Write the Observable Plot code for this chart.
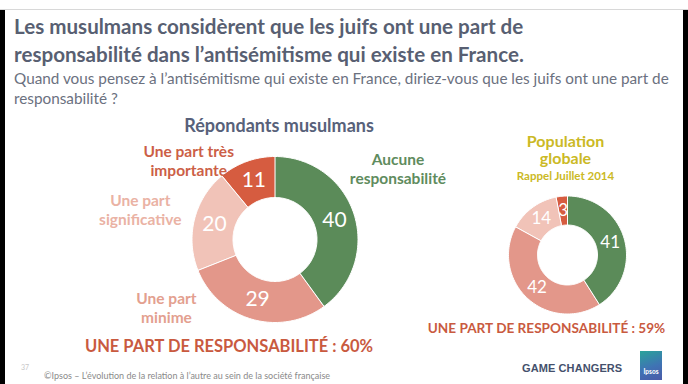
<!DOCTYPE html>
<html>
<head>
<meta charset="utf-8">
<script src="https://cdn.jsdelivr.net/npm/d3@7"></script>
<script src="https://cdn.jsdelivr.net/npm/@observablehq/plot@0.6"></script>
<style>
  html, body { margin: 0; padding: 0; background: #fff; }
  #page { position: relative; width: 688px; height: 384px; overflow: hidden; background: #fff; font-family: Lato, 'Open Sans', sans-serif; }
  .abs { position: absolute; white-space: nowrap; }
  #topline { left: 0; top: 9px; width: 688px; height: 1px; background: #d8d8d8; }
  #barL { left: 0; top: 10px; width: 5px; height: 374px; background: #000; }
  #barR { left: 683px; top: 10px; width: 5px; height: 374px; background: #000; }
  #title { left: 14px; top: 12px; font-size: 20.6px; font-weight: 700; color: #585f72; line-height: 28px; }
  #subtitle { left: 14px; top: 68px; font-size: 15.3px; color: #6b7180; line-height: 20px; }
  #chart { left: 0; top: 110px; }
  #pageno { left: 21px; top: 363px; font-size: 7px; color: #c8c8c8; }
  #footer { left: 44px; top: 370px; font-size: 9px; color: #8a8a8a; }
  #gc { left: 522px; top: 362px; font-size: 11px; font-weight: 700; color: #44506c; font-family: 'Liberation Sans', Arial, sans-serif; letter-spacing: 0.1px; }
  #logo { left: 640px; top: 351px; width: 22px; height: 29px; background: linear-gradient(160deg, #2aa39a 0%, #3f73b4 55%, #4a5aa8 100%); }
  #logo span { position: absolute; left: 0; width: 22px; bottom: 5px; text-align: center; color: #fff; font-size: 6.5px; font-weight: 700; }
</style>
</head>
<body>
<div id="page">
  <div class="abs" id="topline"></div>
  <div class="abs" id="title">Les musulmans considèrent que les juifs ont une part de<br>responsabilité dans l’antisémitisme qui existe en France.</div>
  <div class="abs" id="subtitle">Quand vous pensez à l’antisémitisme qui existe en France, diriez-vous que les juifs ont une part de<br>responsabilité ?</div>
  <div class="abs" id="chart"></div>
  <div class="abs" id="pageno">37</div>
  <div class="abs" id="footer">©Ipsos – L’évolution de la relation à l’autre au sein de la société française</div>
  <div class="abs" id="gc">GAME CHANGERS</div>
  <div class="abs" id="logo"><span>Ipsos</span></div>
  <div class="abs" id="barL"></div>
  <div class="abs" id="barR"></div>
</div>
<script>
// ---- data ----
const categories = ["Aucune responsabilité", "Une part minime", "Une part significative", "Une part très importante"];
const categoryLabels = ["Aucune\nresponsabilité", "Une part\nminime", "Une part\nsignificative", "Une part très\nimportante"];
const muslimValues = [40, 29, 20, 11];
const generalValues = [41, 42, 14, 3];
const muslimTitle = "Répondants musulmans";
const generalTitle = "Population\nglobale";
const generalSubtitle = "Rappel Juillet 2014";
const muslimTotal = "UNE PART DE RESPONSABILITÉ : 60%";
const generalTotal = "UNE PART DE RESPONSABILITÉ : 59%";

// ---- styles / layout ----
const sliceColors = ["#5b8b59", "#e3978a", "#f1c3b8", "#d65c40"];
const labelColors = ["#5f8c5e", "#e3a08f", "#eab2a4", "#cc5f47"];
const W = 688, H = 250;
const FONT = "Lato, 'Open Sans', sans-serif";
const donuts = [
  {values: muslimValues, cx: 274.5, cy: 129, r0: 42, r1: 83, numSize: 21},
  {values: generalValues, cx: 567, cy: 144.5, r0: 30, r1: 59, numSize: 17}
];
// category-name label placement (polar, relative to left donut centre): angle in degrees clockwise from top, radius in px
const namePlacement = [
  {angle: 60, radius: 142},
  {angle: 238, radius: 128},
  {angle: 282.5, radius: 138},
  {angle: 312.5, radius: 117}
];

function arcs(d) {
  const total = d3.sum(d.values);
  let acc = 0;
  return d.values.map((v, i) => {
    const a0 = acc / total * 2 * Math.PI;
    acc += v;
    const a1 = acc / total * 2 * Math.PI;
    return {i, v, a0, a1, mid: (a0 + a1) / 2};
  });
}
function ringPoints(d, s) {
  const n = Math.max(8, Math.ceil((s.a1 - s.a0) / (2 * Math.PI) * 200));
  const pts = [];
  for (let k = 0; k <= n; k++) {
    const a = s.a0 + (s.a1 - s.a0) * k / n;
    pts.push({x: d.cx + d.r1 * Math.sin(a), y: d.cy - d.r1 * Math.cos(a)});
  }
  for (let k = n; k >= 0; k--) {
    const a = s.a0 + (s.a1 - s.a0) * k / n;
    pts.push({x: d.cx + d.r0 * Math.sin(a), y: d.cy - d.r0 * Math.cos(a)});
  }
  return pts;
}

const marks = [];
donuts.forEach(d => {
  const sl = arcs(d);
  sl.forEach(s => {
    marks.push(Plot.line(ringPoints(d, s), {x: "x", y: "y", fill: sliceColors[s.i], stroke: "#fff", strokeWidth: 1, curve: "linear-closed"}));
  });
  const rm = (d.r0 + d.r1) / 2;
  marks.push(Plot.text(sl, {
    x: s => d.cx + rm * Math.sin(s.mid),
    y: s => d.cy - rm * Math.cos(s.mid),
    text: s => String(s.v),
    fill: "#fff", fontSize: d.numSize, fontFamily: FONT
  }));
});

// category names around the left donut
const L = donuts[0];
marks.push(Plot.text(categories.map((c, i) => ({i, label: categoryLabels[i]})), {
  x: d => L.cx + namePlacement[d.i].radius * Math.sin(namePlacement[d.i].angle * Math.PI / 180),
  y: d => L.cy - namePlacement[d.i].radius * Math.cos(namePlacement[d.i].angle * Math.PI / 180),
  text: "label",
  fill: d => labelColors[d.i],
  fontSize: 15.5, fontWeight: 700, fontFamily: FONT, lineHeight: 1.22
}));

// headings & totals
marks.push(Plot.text([muslimTitle], {x: () => L.cx + 4, y: () => L.cy - 113, text: d => d, fill: "#57617a", fontSize: 18, fontWeight: 700, fontFamily: FONT}));
const R = donuts[1];
marks.push(Plot.text([generalTitle], {x: () => R.cx - 2, y: () => R.cy - 105, text: d => d, fill: "#cbb925", fontSize: 16, fontWeight: 700, fontFamily: FONT, lineHeight: 1.1}));
marks.push(Plot.text([generalSubtitle], {x: () => R.cx - 2, y: () => R.cy - 79, text: d => d, fill: "#cbb925", fontSize: 11.5, fontWeight: 700, fontFamily: FONT}));
marks.push(Plot.text([muslimTotal], {x: () => L.cx - 46, y: () => L.cy + 107, text: d => d, fill: "#c95a3f", fontSize: 16.5, fontWeight: 700, fontFamily: FONT}));
marks.push(Plot.text([generalTotal], {x: () => R.cx - 21, y: () => R.cy + 74, text: d => d, fill: "#c95a3f", fontSize: 13.6, fontWeight: 700, fontFamily: FONT}));

const chart = Plot.plot({
  width: W, height: H, margin: 0,
  x: {domain: [0, W], range: [0, W], axis: null},
  y: {domain: [0, H], range: [0, H], axis: null},
  style: {background: "transparent", fontFamily: FONT},
  marks
});
document.getElementById("chart").appendChild(chart);
</script>
</body>
</html>
